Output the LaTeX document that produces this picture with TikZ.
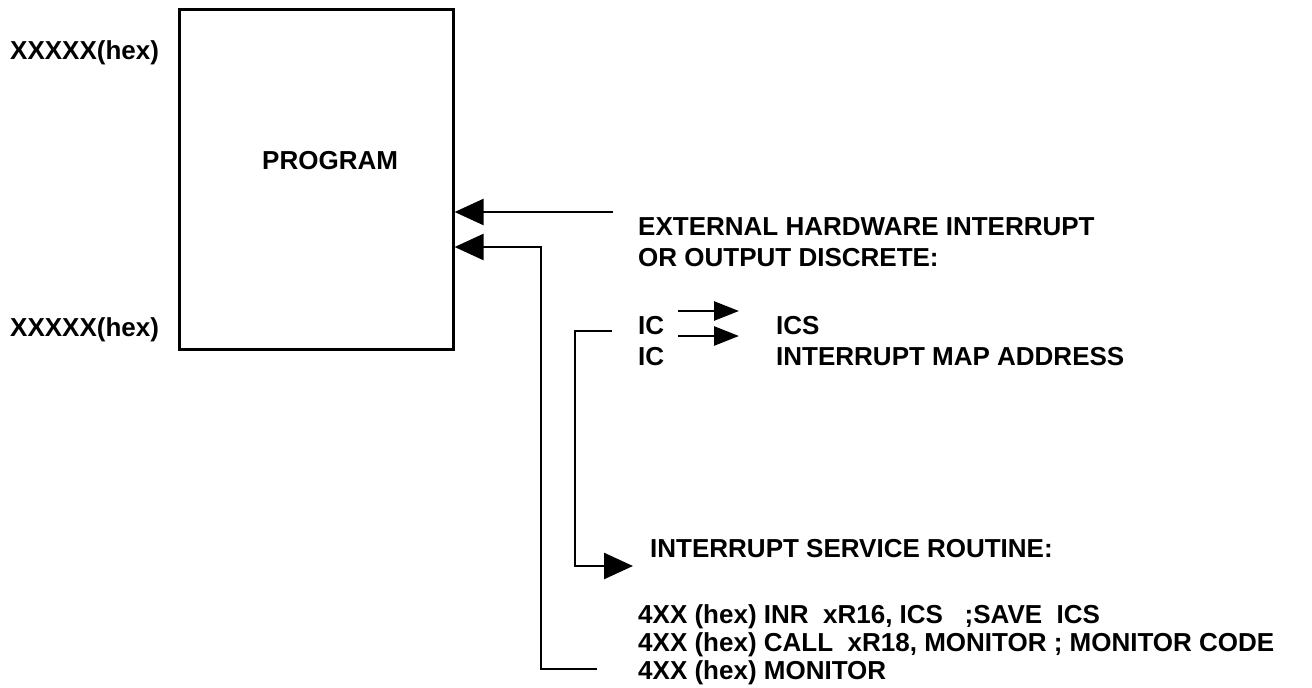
\documentclass[tikz,border=0pt]{standalone}
\usepackage{fontspec}
\setmainfont{Liberation Sans}
\usetikzlibrary{arrows.meta}
\tikzset{
  lbl/.style={inner sep=0pt, anchor=base west, font=\fontsize{26}{29}\selectfont\bfseries},
  ln/.style={line width=2.6pt},
  bigarrow/.style={ln, -{Triangle[length=29pt,width=26pt]}},
  smallarrow/.style={ln, -{Triangle[length=25pt,width=19pt]}},
}
\begin{document}
\begin{tikzpicture}[x=1pt,y=-1pt]
\useasboundingbox (0,0) rectangle (1312,688);
% box
\node[draw, line width=2.6pt, minimum width=274pt, minimum height=340pt, inner sep=0pt, anchor=north west] (box) at (178,8) {};
\node[lbl] (hexa) at (10,59) {XXXXX(hex)};
\node[lbl] (hexb) at (10,336) {XXXXX(hex)};
\node[lbl] (prog) at (262,169) {PROGRAM};
% texts right
\node[lbl] (ext) at (638,235) {EXTERNAL HARDWARE INTERRUPT};
\node[lbl] (orout) at (638,266) {OR OUTPUT DISCRETE:};
\node[lbl] (ica) at (638,334) {IC};
\node[lbl] (icb) at (638,365) {IC};
\node[lbl] (ics) at (776,334) {ICS};
\node[lbl] (ima) at (776,365) {INTERRUPT MAP ADDRESS};
\node[lbl] (isr) at (650,557) {INTERRUPT SERVICE ROUTINE:};
\node[lbl] (l1) at (638,623) {4XX (hex) INR\ \ xR16, ICS\ \ \ ;SAVE\ \ ICS};
\node[lbl] (l2) at (638,651) {4XX (hex) CALL\ \ xR18, MONITOR ; MONITOR CODE};
\node[lbl] (l3) at (638,679) {4XX (hex) MONITOR};
% coordinates
\coordinate (a1s) at (613,212);
\coordinate (a2s) at (597,669);
\coordinate (a2c) at (541,247);
\coordinate (a3s) at (612,331);
\coordinate (a3c) at (575,566);
\coordinate (a3e) at (633,566);
\coordinate (ics1s) at (678,311);
\coordinate (ics1e) at (739,311);
\coordinate (ics2s) at (678,336);
\coordinate (ics2e) at (739,336);
% connectors
\draw[bigarrow] (a1s) -- (box.east |- a1s);
\draw[bigarrow] (a2s) -| (a2c) -- (box.east |- a2c);
\draw[bigarrow] (a3s) -| (a3c) -- (a3e);
\draw[smallarrow] (ics1s) -- (ics1e);
\draw[smallarrow] (ics2s) -- (ics2e);
\end{tikzpicture}
\end{document}
